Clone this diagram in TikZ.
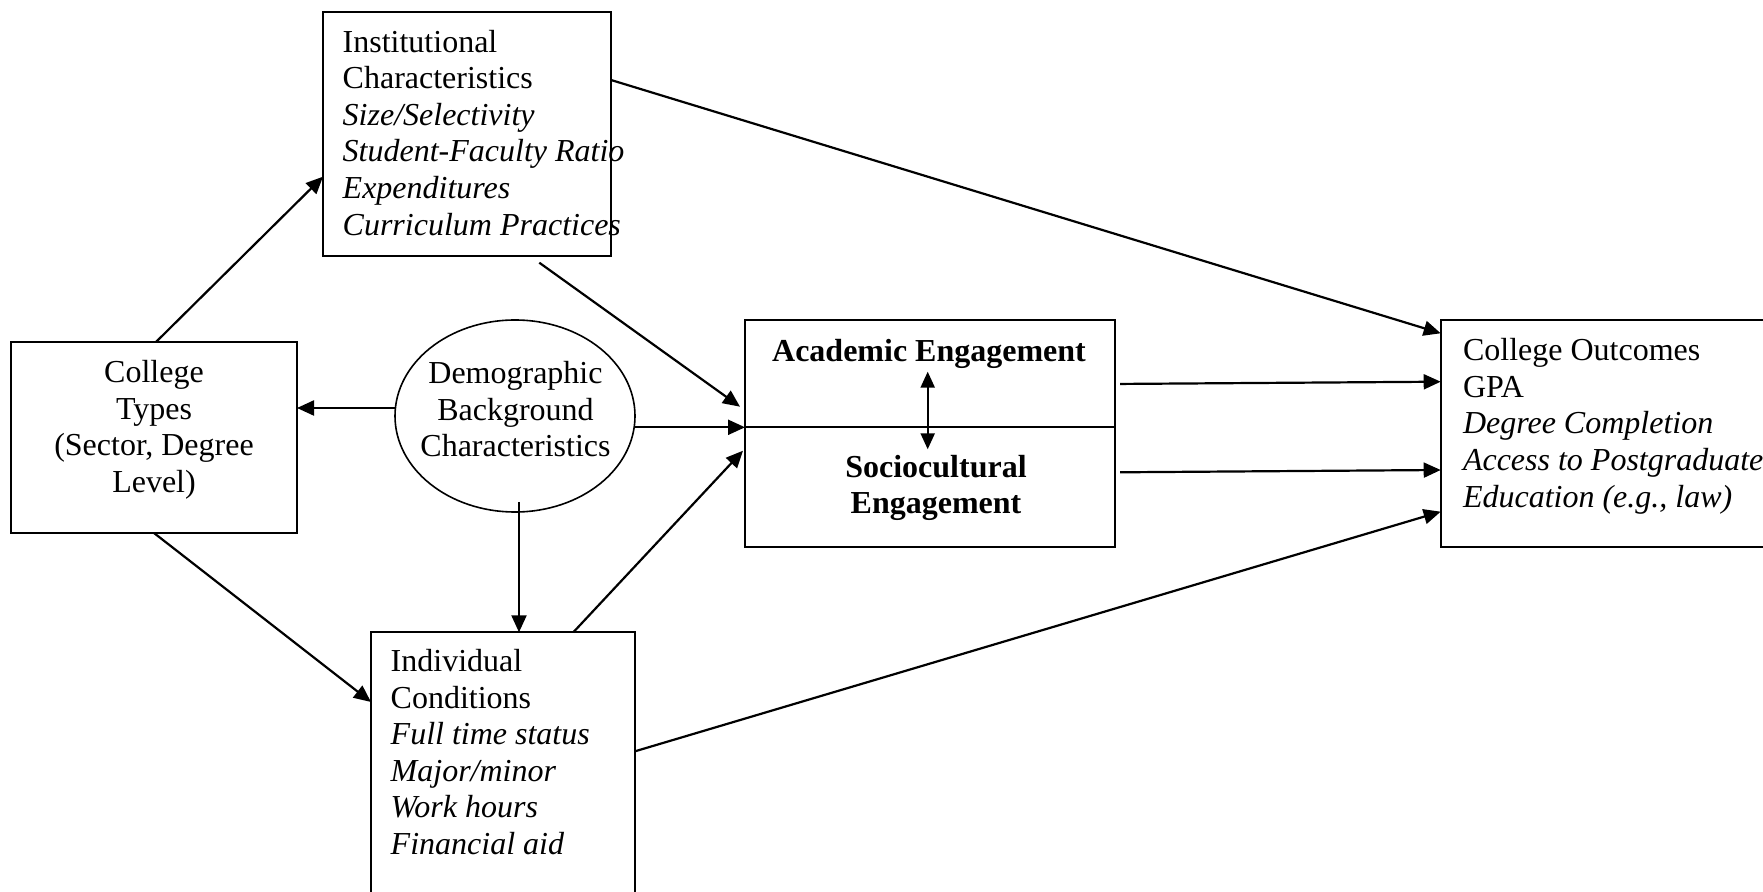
\documentclass[tikz,border=0pt]{standalone}
\usepackage{fontspec}
\setmainfont{Liberation Serif}
\usetikzlibrary{arrows.meta,calc,shapes.geometric}
\begin{document}
\begin{tikzpicture}[x=0.5pt,y=-0.5pt,
  box/.style={draw, line width=1pt, inner sep=0pt, outer sep=0pt},
  txt/.style={inner sep=0pt, outer sep=0pt, font=\fontsize{16}{18.3}\selectfont},
  btxt/.style={inner sep=0pt, outer sep=0pt, font=\fontsize{16}{18.3}\selectfont\bfseries},
  arr/.style={line width=1.1pt, -{Triangle[length=8.5pt,width=7.5pt]}},
  darr/.style={line width=1.1pt, {Triangle[length=8pt,width=7pt]}-{Triangle[length=8pt,width=7pt]}}]
\useasboundingbox (0,0) rectangle (1763,892);
\clip (0,0) rectangle (1763,892);
\fill[white] (0,0) rectangle (1763,892);

% boxes
\node[box, minimum width=144pt, minimum height=122pt] (inst) at (467,134) {};
\node[box, minimum width=143pt, minimum height=95.5pt] (types) at (154,437.5) {};
\node[draw, ellipse, line width=0.8pt, minimum width=120pt, minimum height=96pt, inner sep=0pt, outer sep=0pt] (demo) at (515,416) {};
\node[box, minimum width=185pt, minimum height=53.65pt] (acad) at (930,373.65) {};
\node[box, minimum width=185pt, minimum height=60pt] (socio) at (930,487.3) {};
\node[box, minimum width=179.65pt, minimum height=113.65pt] (out) at (1620.35,433.65) {};
\node[box, minimum width=132pt, minimum height=148.85pt] (indiv) at (503,781.15) {};

% texts
\node[txt, anchor=north west, align=left] (instT) at (342.7,30)
  {Institutional\\Characteristics\\\textit{Size/Selectivity}\\\textit{Student-Faculty Ratio}\\\textit{Expenditures}\\\textit{Curriculum Practices}};
\node[txt, align=center] (typesT) at (154,430) {College\\Types\\(Sector, Degree\\Level)};
\node[txt, align=center] (demoT) at (515.5,409.3) {Demographic\\Background\\Characteristics};
\node[btxt, anchor=base] (acadT) at (929,362) {Academic Engagement};
\node[btxt, align=center] (socioT) at (936,488) {Sociocultural\\Engagement};
\node[txt, anchor=north west, align=left] (outT) at (1463,338.5)
  {College Outcomes\\GPA\\\textit{Degree Completion}\\\textit{Access to Postgraduate}\\\textit{Education (e.g., law)}};
\node[txt, anchor=north west, align=left] (indivT) at (390.7,649.3)
  {Individual\\Conditions\\\textit{Full time status}\\\textit{Major/minor}\\\textit{Work hours}\\\textit{Financial aid}};

% connectors
\draw[arr] ($(types.north)+(2,0)$) -- ($(inst.west)+(0,42.7)$);
\draw[arr] (types.south) -- ($(indiv.north west)+(0,69.7)$);
\draw[arr] ($(demo.west)+(0.4,-8)$) -- ($(types.east)+(0,-29.5)$);
\draw[arr] (demo.east |- acad.south west) -- (acad.south west);
\draw[arr] ($(inst.south)+(72.3,6.7)$) -- ($(acad.south west)+(-5,-20.6)$);
\draw[arr] ($(demo.south)+(4,-10)$) coordinate (d1) -- (d1 |- indiv.north);
\draw[arr] ($(indiv.north)+(70.3,0)$) -- ($(socio.north west)+(-2,23.4)$);
\draw[darr] ($(acad.center)+(-2.3,-2)$) -- ($(socio.north)+(-2.3,22)$);
\draw[arr] ($(inst.north east)+(0,68)$) -- ($(out.north west)+(0,13.3)$);
\draw[arr] ($(acad.east)+(5,10.3)$) -- ($(out.north west)+(0,61.7)$);
\draw[arr] ($(socio.east)+(5,-15)$) -- ($(out.north west)+(0,150)$);
\draw[arr] ($(indiv.north east)+(0,119)$) -- ($(out.north west)+(0,191.7)$);
\end{tikzpicture}
\end{document}
